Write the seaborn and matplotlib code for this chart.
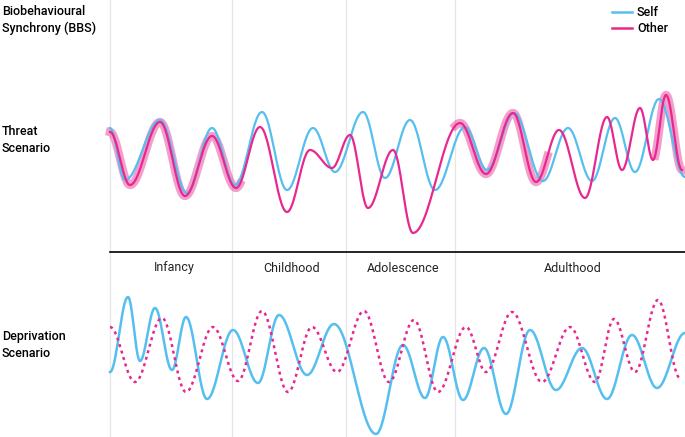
import numpy as np
import pandas as pd
import matplotlib.pyplot as plt
import seaborn as sns

plt.rcParams['font.family'] = 'Roboto'

BLUE = '#55BFEF'
PINK = '#E8288E'

# turning points (x, y) in canvas pixels
threat_self = [(110,128),(125,180),(160,120),(187,193),(212,128),(235,185),(262,112),(287,190),
               (313,128),(335,172),(363,112),(385,178),(410,120),(435,190),(465,127),(487,170),
               (514,113),(543,181),(568,128),(592,181),(615,118),(635,172),(659,99),(685,177)]
threat_other = [(110,132),(130,185),(160,122),(185,196),(212,136),(236,188),(260,127),(287,212),
                (310,150),(332,168),(350,135),(368,208),(393,150),(413,233),(460,123),(486,174),
                (513,113),(536,182),(559,130),(585,198),(607,117),(622,170),(640,108),(653,160),
                (666,95),(682,170)]
depr_self = [(110,372),(128,297),(140,361),(155,308),(172,370),(186,317),(207,399),(233,330),
             (258,383),(279,315),(307,375),(334,324),(376,434),(403,345),(425,398),(443,337),
             (463,400),(484,348),(506,414),(530,330),(556,390),(582,348),(607,399),(632,335),
             (657,388),(685,333)]
depr_other = [(110,327),(135,382),(162,318),(186,392),(213,327),(238,381),(262,311),(288,392),
              (312,327),(337,372),(364,311),(389,382),(414,320),(438,392),(466,327),(486,372),
              (512,312),(542,382),(570,327),(595,382),(614,319),(635,372),(658,300),(680,378)]
sync_spans = [(110,240),(455,548),(655,684)]

stage_names = ['Infancy', 'Childhood', 'Adolescence', 'Adulthood']
stage_edges = [110, 232, 346, 455, 685]


def smooth(pts, n=30):
    xs, ys = [], []
    for (x0, y0), (x1, y1) in zip(pts[:-1], pts[1:]):
        t = np.linspace(0, 1, n, endpoint=False)
        xs.extend(x0 + (x1 - x0) * t)
        ys.extend(y0 + (y1 - y0) * (1 - np.cos(np.pi * t)) / 2)
    xs.append(pts[-1][0]); ys.append(pts[-1][1])
    return pd.DataFrame({'x': xs, 'y': ys})


fig = plt.figure(figsize=(6.85, 4.37), dpi=100)
ax = fig.add_axes([0, 0, 1, 1])
ax.set_xlim(0, 685)
ax.set_ylim(437, 0)
ax.axis('off')

for e in stage_edges[:-1]:
    ax.axvline(e, color='#e6e6e6', lw=0.9, zorder=0)
ax.plot([110, 685], [252, 252], color='black', lw=1.2)
for name, a, b in zip(stage_names, stage_edges[:-1], stage_edges[1:]):
    ax.text((a + b) / 2 + 3, 268, name, ha='center', va='center', fontsize=9, color='#222')

other = smooth(threat_other)
for a, b in sync_spans:
    seg = other[(other.x >= a) & (other.x <= b)]
    sns.lineplot(data=seg, x='x', y='y', sort=False, ax=ax, color=PINK, lw=6, alpha=0.45)

sns.lineplot(data=smooth(threat_self), x='x', y='y', sort=False, ax=ax, color=BLUE, lw=1.6)
sns.lineplot(data=other, x='x', y='y', sort=False, ax=ax, color=PINK, lw=1.6)
sns.lineplot(data=smooth(depr_self), x='x', y='y', sort=False, ax=ax, color=BLUE, lw=1.8)
sns.lineplot(data=smooth(depr_other), x='x', y='y', sort=False, ax=ax, color=PINK, lw=1.8,
             linestyle=(0, (1.2, 1.5)))
ax.set_xlim(0, 685)
ax.set_ylim(437, 0)
ax.axis('off')

ax.text(2, 20, 'Biobehavioural\nSynchrony (BBS)', fontsize=9, fontweight='medium', va='center',
        linespacing=1.4)
ax.text(2, 140, 'Threat\nScenario', fontsize=9, fontweight='medium', va='center', linespacing=1.4)
ax.text(2, 345, 'Deprivation\nScenario', fontsize=9, fontweight='medium', va='center', linespacing=1.4)

ax.plot([612, 632], [12, 12], color=BLUE, lw=1.8)
ax.plot([612, 632], [28, 28], color=PINK, lw=1.8)
ax.text(637, 12, 'Self', fontsize=9, fontweight='medium', va='center')
ax.text(637, 28, 'Other', fontsize=9, fontweight='medium', va='center')

fig.savefig('out.png', dpi=100)
